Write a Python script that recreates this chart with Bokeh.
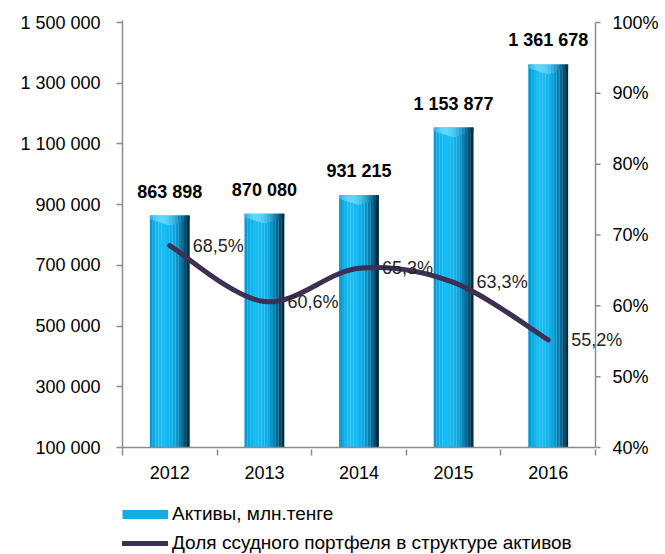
import numpy as np
from bokeh.plotting import figure
from bokeh.layouts import column
from bokeh.models import (Range1d, LinearAxis, FixedTicker, Legend, LegendItem,
                          ColumnDataSource, LabelSet)
from bokeh.core.properties import value
from bokeh.embed import file_html
from bokeh.resources import INLINE

# ---- data ----
years = ["2012", "2013", "2014", "2015", "2016"]
assets = [863898, 870080, 931215, 1153877, 1361678]
asset_labels = ["863 898", "870 080", "931 215", "1 153 877", "1 361 678"]
loan_share = [68.5, 60.6, 65.3, 63.3, 55.2]
share_labels = ["68,5%", "60,6%", "65,3%", "63,3%", "55,2%"]
left_ticks = [100000, 300000, 500000, 700000, 900000, 1100000, 1300000, 1500000]
left_tick_labels = ["100 000", "300 000", "500 000", "700 000", "900 000",
                    "1 100 000", "1 300 000", "1 500 000"]
right_ticks = [40, 50, 60, 70, 80, 90, 100]
right_tick_labels = ["40%", "50%", "60%", "70%", "80%", "90%", "100%"]
series_names = ["Активы, млн.тенге", "Доля ссудного портфеля в структуре активов"]

FONT = "Liberation Sans"
AXIS_COLOR = "#8c8c8c"
LINE_COLOR = "#3d3052"
BAR_SWATCH = "#14ace2"

xs = list(range(1, len(years) + 1))

# geometry (pixels)
W = 665
H1, H2 = 490, 64
LEFT, TOP = 122, 20
PLOT_H = 425          # tick span of the value axes
PAD = 2               # small pad so edge lines are not clipped
FRAME_H = PLOT_H + 2 * PAD
CAT_PX = 94.6
FRAME_W = 506         # extends past the right axis so labels are not clipped

lspan = left_ticks[-1] - left_ticks[0]
rspan = right_ticks[-1] - right_ticks[0]
lpad = PAD * lspan / PLOT_H
rpad = PAD * rspan / PLOT_H
x_end = 0.5 + FRAME_W / CAT_PX

p = figure(width=W, height=H1, x_range=Range1d(0.5, x_end),
           y_range=Range1d(left_ticks[0] - lpad, left_ticks[-1] + lpad),
           output_backend="svg", toolbar_location=None,
           min_border_left=LEFT, min_border_right=W - LEFT - FRAME_W,
           min_border_top=TOP, min_border_bottom=H1 - TOP - FRAME_H)
p.extra_y_ranges = {"pct": Range1d(right_ticks[0] - rpad, right_ticks[-1] + rpad)}
p.outline_line_color = None
p.xgrid.visible = False
p.ygrid.visible = False
p.background_fill_color = "white"
p.border_fill_color = "white"

# ---- bars (gradient strips to mimic the cylinder look) ----
bar_w = 0.42
stops = ["#0a9ad2", "#0eaae4", "#12b6ee", "#16bcf3", "#16bcf3", "#15baf2",
         "#14b6ee", "#12b0e8", "#10a6de", "#0d96cc", "#0a80b2", "#086894",
         "#054c6c", "#032e42"]
light = ["#3cb6e6", "#48c6f2", "#56d2fa", "#62d8fc", "#62d8fc", "#5cd4fa",
         "#52ccf4", "#46c0ec", "#3ab2e0", "#2ca0ce", "#1e88b6", "#147098",
         "#0c5474", "#063848"]
n = len(stops)
sw = bar_w / n
for k, c in enumerate(stops):
    off = -bar_w / 2 + (k + 0.5) * sw
    p.vbar(x=[v + off for v in xs], width=sw * 1.05, bottom=left_ticks[0],
           top=assets, fill_color=c, line_color=None)

unit_per_px = lspan / PLOT_H
bev = 10 * unit_per_px
for k, c in enumerate(light):
    off = -bar_w / 2 + (k + 0.5) * sw
    frac = abs((k + 0.5) / n - 0.5) * 2
    p.vbar(x=[v + off for v in xs], width=sw * 1.05,
           bottom=[a - bev * (1 - 0.65 * frac) for a in assets], top=assets,
           fill_color=c, line_color=None)

# ---- x axis line and right axis line (drawn inside the frame) ----
p.segment(x0=[0.5], y0=[left_ticks[0]], x1=[len(xs) + 0.5], y1=[left_ticks[0]],
          line_color=AXIS_COLOR, line_width=1.5)
p.segment(x0=[len(xs) + 0.5], y0=[right_ticks[0]], x1=[len(xs) + 0.5],
          y1=[right_ticks[-1]], line_color=AXIS_COLOR, line_width=1.5,
          y_range_name="pct")
p.segment(x0=[len(xs) + 0.5] * len(right_ticks), y0=right_ticks,
          x1=[len(xs) + 0.5 + 5 / CAT_PX] * len(right_ticks), y1=right_ticks,
          line_color=AXIS_COLOR, line_width=1.5, y_range_name="pct")

# ---- smoothed line via bezier segments ----
px = np.array(xs, dtype=float)
py = np.array(loan_share, dtype=float)
P = np.column_stack([px, py])
Pext = np.vstack([P[0], P, P[-1]])
x0, y0, x1, y1, cx0, cy0, cx1, cy1 = [], [], [], [], [], [], [], []
for i in range(len(P) - 1):
    a, b = Pext[i + 1], Pext[i + 2]
    c1 = a + (Pext[i + 2] - Pext[i]) / 6.0
    c2 = b - (Pext[i + 3] - Pext[i + 1]) / 6.0
    x0.append(a[0]); y0.append(a[1]); x1.append(b[0]); y1.append(b[1])
    cx0.append(c1[0]); cy0.append(c1[1]); cx1.append(c2[0]); cy1.append(c2[1])
p.bezier(x0=x0, y0=y0, x1=x1, y1=y1, cx0=cx0, cy0=cy0, cx1=cx1, cy1=cy1,
         line_color=LINE_COLOR, line_width=5, line_cap="round",
         y_range_name="pct")

# ---- labels ----
bar_src = ColumnDataSource(dict(x=xs, y=assets, t=asset_labels))
p.add_layout(LabelSet(x="x", y="y", text="t", source=bar_src,
                      text_align="center", text_baseline="alphabetic",
                      y_offset=18, text_font=value(FONT), text_font_style="bold",
                      text_font_size="18px", text_color="#000000"))
pct_src = ColumnDataSource(dict(x=xs, y=loan_share, t=share_labels))
p.add_layout(LabelSet(x="x", y="y", text="t", source=pct_src,
                      y_range_name="pct", text_align="left",
                      text_baseline="middle", x_offset=23,
                      text_font=value(FONT), text_font_size="18px",
                      text_color="#262626"))

# ---- axes ----
p.xaxis.ticker = FixedTicker(ticks=xs, minor_ticks=[v - 0.5 for v in xs] + [xs[-1] + 0.5])
p.xaxis.major_label_overrides = {v: y for v, y in zip(xs, years)}
p.xaxis.axis_line_color = None
p.xaxis.major_tick_line_color = None
p.xaxis.major_tick_out = 0
p.xaxis.minor_tick_out = 6
p.xaxis.minor_tick_in = 0
p.xaxis.minor_tick_line_color = AXIS_COLOR
p.xaxis.minor_tick_line_width = 1.5
p.xaxis.major_label_standoff = 10

p.yaxis.ticker = FixedTicker(ticks=left_ticks)
p.yaxis.major_label_overrides = {v: t for v, t in zip(left_ticks, left_tick_labels)}
p.yaxis.minor_tick_line_color = None
p.yaxis.major_tick_out = 6
p.yaxis.major_tick_in = 0
p.yaxis.major_label_standoff = 16
p.yaxis.axis_line_color = AXIS_COLOR
p.yaxis.axis_line_width = 1.5
p.yaxis.major_tick_line_color = AXIS_COLOR
p.yaxis.major_tick_line_width = 1.5

ra = LinearAxis(y_range_name="pct", ticker=FixedTicker(ticks=right_ticks))
ra.major_label_overrides = {v: t for v, t in zip(right_ticks, right_tick_labels)}
ra.minor_tick_line_color = None
ra.major_tick_line_color = None
ra.axis_line_color = None
ra.major_tick_out = 0
ra.major_tick_in = 0
ra.major_label_standoff = -16
p.add_layout(ra, "right")

for ax in [p.xaxis[0], p.yaxis[0], ra]:
    ax.major_label_text_font = FONT
    ax.major_label_text_font_size = "18px"
    ax.major_label_text_color = "#000000"

# ---- legend (own small figure below the chart; its frame aligns with the chart's) ----
p2 = figure(width=W, height=H2, x_range=Range1d(0, 1), y_range=Range1d(0, 1),
            output_backend="svg", toolbar_location=None,
            x_axis_location=None, y_axis_location=None, min_border=0)
p2.outline_line_color = None
p2.xgrid.visible = False
p2.ygrid.visible = False
p2.background_fill_color = "white"
p2.border_fill_color = "white"
bar_proxy = p2.line(x=[-5, -4], y=[-5, -5], line_color=BAR_SWATCH, line_width=9)
line_proxy = p2.line(x=[-5, -4], y=[-5, -5], line_color=LINE_COLOR, line_width=5,
                     line_cap="round")
legend = Legend(items=[LegendItem(label=series_names[0], renderers=[bar_proxy]),
                       LegendItem(label=series_names[1], renderers=[line_proxy])],
                location=(0, 0), orientation="vertical",
                glyph_width=46, glyph_height=22, label_height=22,
                label_standoff=4, spacing=7, padding=0, margin=0,
                border_line_color=None, background_fill_alpha=0,
                label_text_font=FONT, label_text_font_size="19px",
                label_text_color="#000000")
p2.add_layout(legend)

layout = column(p, p2, spacing=0)
open("out.html", "w").write(file_html(layout, INLINE))
